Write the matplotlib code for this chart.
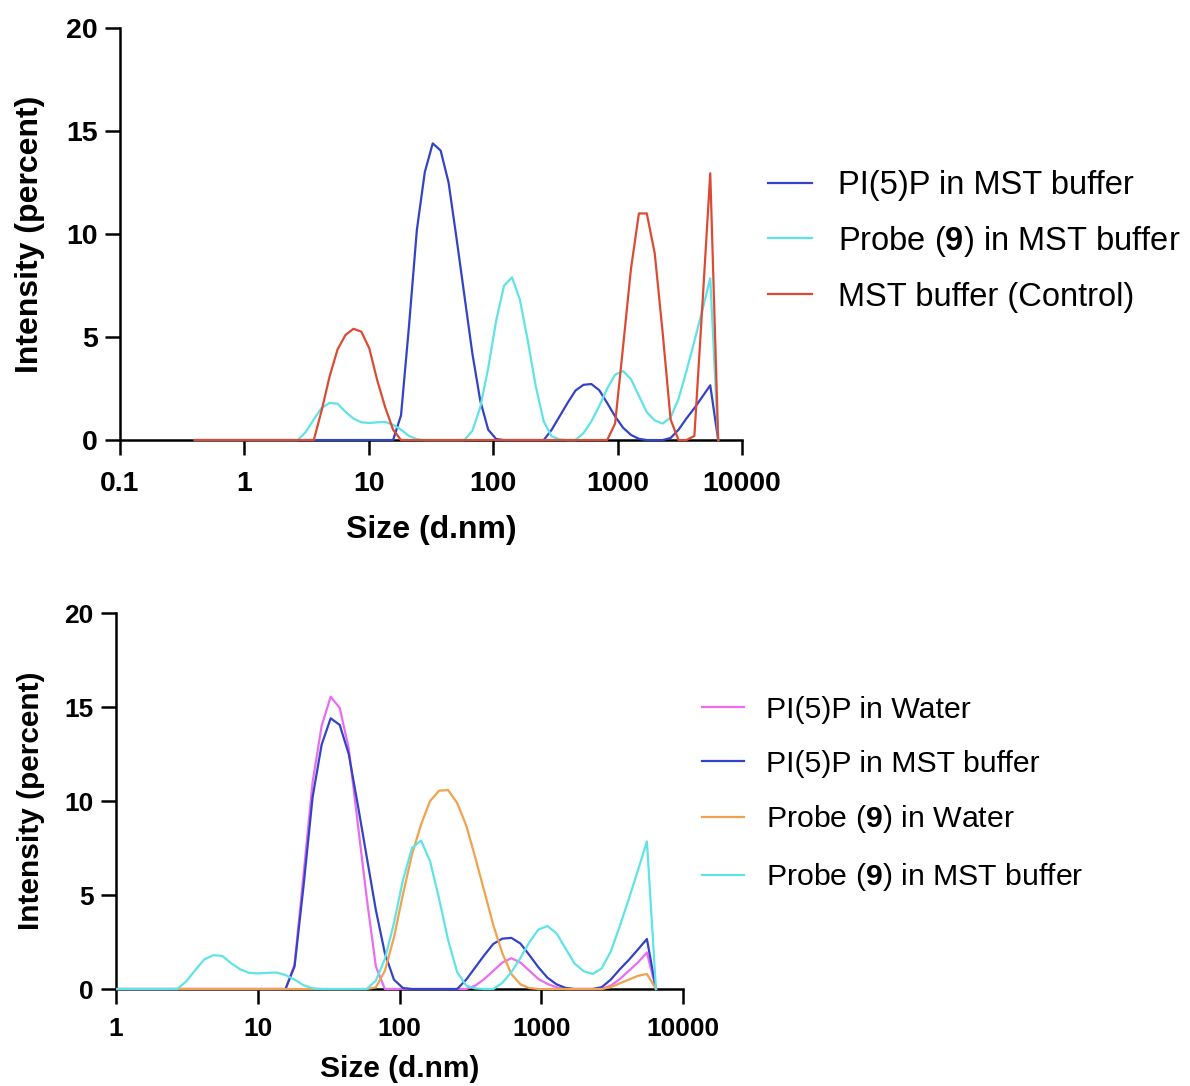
import matplotlib.pyplot as plt
from matplotlib.patches import Rectangle

plt.rcParams['font.family'] = ['Liberation Sans', 'DejaVu Sans']
plt.rcParams['mathtext.fontset'] = 'custom'
plt.rcParams['mathtext.rm'] = 'Liberation Sans'
plt.rcParams['mathtext.bf'] = 'Liberation Sans:bold'

# size bins (d.nm) of the DLS distribution
sizes = [0.4, 0.4632, 0.5365, 0.6213, 0.7195, 0.8332, 0.9649, 1.117, 1.294, 1.499,
         1.736, 2.01, 2.328, 2.696, 3.122, 3.615, 4.187, 4.849, 5.615, 6.503,
         7.531, 8.721, 10.1, 11.7, 13.54, 15.69, 18.17, 21.04, 24.36, 28.21,
         32.67, 37.84, 43.82, 50.75, 58.77, 68.06, 78.82, 91.28, 105.7, 122.4,
         141.8, 164.2, 190.1, 220.2, 255.0, 295.3, 342.0, 396.1, 458.7, 531.2,
         615.1, 712.4, 825.0, 955.4, 1106, 1281, 1484, 1718, 1990, 2305,
         2669, 3091, 3580, 4145, 4801, 5560, 6439]

# intensity (percent) per size bin
pi5p_mst = [0, 0, 0, 0, 0, 0, 0, 0, 0, 0,
            0, 0, 0, 0, 0, 0, 0, 0, 0, 0,
            0, 0, 0, 0, 0, 0, 1.2, 5.5, 10.2, 13.0,
            14.4, 14.05, 12.5, 9.8, 7.0, 4.2, 1.9, 0.5, 0.05, 0,
            0, 0, 0, 0, 0, 0.5, 1.15, 1.8, 2.4, 2.68,
            2.72, 2.42, 1.8, 1.15, 0.6, 0.25, 0.06, 0, 0, 0,
            0.1, 0.5, 1.05, 1.55, 2.1, 2.66, 0]

probe_mst = [0, 0, 0, 0, 0, 0, 0, 0, 0, 0,
             0, 0, 0, 0, 0.4, 1.0, 1.57, 1.8, 1.76, 1.37,
             1.04, 0.86, 0.83, 0.86, 0.88, 0.74, 0.5, 0.2, 0.04, 0,
             0, 0, 0, 0, 0, 0.45, 1.6, 3.5, 5.8, 7.5,
             7.9, 6.8, 4.8, 2.6, 0.9, 0.18, 0.03, 0, 0, 0.33,
             0.9, 1.65, 2.5, 3.17, 3.35, 2.96, 2.15, 1.35, 0.95, 0.8,
             1.1, 2.0, 3.35, 4.8, 6.3, 7.85, 0]

mst_control = [0, 0, 0, 0, 0, 0, 0, 0, 0, 0,
               0, 0, 0, 0, 0, 0, 1.45, 3.1, 4.4, 5.1,
               5.4, 5.26, 4.45, 2.9, 1.6, 0.5, 0, 0, 0, 0,
               0, 0, 0, 0, 0, 0, 0, 0, 0, 0,
               0, 0, 0, 0, 0, 0, 0, 0, 0, 0,
               0, 0, 0, 0.8, 4.5, 8.3, 11.0, 11.0, 9.06, 5.2,
               1.0, 0, 0, 0.2, 6.5, 12.95, 0]

pi5p_water = [0, 0, 0, 0, 0, 0, 0, 0, 0, 0,
              0, 0, 0, 0, 0, 0, 0, 0, 0, 0,
              0, 0, 0, 0, 0, 0, 1.3, 6.1, 11.0, 14.0,
              15.55, 14.95, 12.8, 8.8, 4.8, 1.2, 0, 0, 0, 0,
              0, 0, 0, 0, 0, 0, 0.18, 0.53, 0.97, 1.41,
              1.64, 1.41, 0.97, 0.53, 0.27, 0.09, 0, 0, 0, 0,
              0, 0.18, 0.53, 0.97, 1.41, 1.94, 0]

probe_water = [0, 0, 0, 0, 0, 0, 0, 0, 0, 0,
               0, 0, 0, 0, 0, 0, 0, 0, 0, 0,
               0, 0, 0, 0, 0, 0, 0, 0, 0, 0,
               0, 0, 0, 0, 0, 0.09, 0.97, 2.74, 5.04, 7.16,
               8.75, 10.0, 10.55, 10.58, 9.9, 8.7, 7.0, 5.2, 3.4, 1.9,
               0.8, 0.25, 0.05, 0, 0, 0, 0, 0, 0, 0,
               0, 0.1, 0.3, 0.5, 0.7, 0.8, 0]

c_blue = '#3343c8'
c_cyan = '#5fe3e6'
c_red = '#dc4a34'
c_mag = '#ea6cf0'
c_orange = '#f0a24e'

lbl_pi_mst = 'PI(5)P in MST buffer'
lbl_probe_mst = r'Probe ($\mathbf{9}$) in MST buffer'
lbl_ctrl = 'MST buffer (Control)'
lbl_pi_water = 'PI(5)P in Water'
lbl_probe_water = r'Probe ($\mathbf{9}$) in Water'


def style_axes(ax, xticks, xticklabels, fs_tick, fs_label, xpad, xlpad, ylpad):
    ax.set_xscale('log')
    ax.set_xlim(xticks[0], xticks[-1])
    ax.set_ylim(0, 20)
    ax.set_xticks(xticks)
    ax.set_xticklabels(xticklabels)
    ax.minorticks_off()
    ax.set_yticks([0, 5, 10, 15, 20])
    for s in ['top', 'right']:
        ax.spines[s].set_visible(False)
    for s in ['left', 'bottom']:
        ax.spines[s].set_linewidth(1.8)
        ax.spines[s].set_zorder(1)
    ax.tick_params(width=1.8, length=11, direction='out')
    ax.tick_params(axis='x', pad=xpad)
    ax.tick_params(axis='y', pad=5)
    for t in ax.get_xticklabels() + ax.get_yticklabels():
        t.set_fontweight('bold')
        t.set_fontsize(fs_tick)
    ax.set_xlabel('Size (d.nm)', fontsize=fs_label, fontweight='bold', labelpad=xlpad)
    ax.set_ylabel('Intensity (percent)', fontsize=fs_label, fontweight='bold', labelpad=ylpad)


fig = plt.figure(figsize=(11.9, 10.86), dpi=100)

# top panel
ax1 = fig.add_axes([0.1008, 0.5948, 0.5227, 0.3794])
for y, c, lab in [(pi5p_mst, c_blue, lbl_pi_mst),
                  (probe_mst, c_cyan, lbl_probe_mst),
                  (mst_control, c_red, lbl_ctrl)]:
    ax1.plot(sizes, y, color=c, lw=1.6, label=lab, clip_on=False, zorder=3)
style_axes(ax1, [0.1, 1, 10, 100, 1000, 10000],
           ['0.1', '1', '10', '100', '1000', '10000'], 20.5, 23,
           xpad=11, xlpad=13, ylpad=15)
ax1.legend(loc='upper left', bbox_to_anchor=(768 / 1190, 1 - 170 / 1086),
           bbox_transform=fig.transFigure, frameon=False, fontsize=23.5,
           handlelength=1.35, handletextpad=0.8, labelspacing=0.7,
           borderpad=0, borderaxespad=0)

# bottom panel
ax2 = fig.add_axes([0.0975, 0.0893, 0.4765, 0.3462])
clip = Rectangle((0, -0.05), 1, 1.1, transform=ax2.transAxes, visible=False)
ax2.add_patch(clip)
for y, c, lab in [(pi5p_water, c_mag, lbl_pi_water),
                  (pi5p_mst, c_blue, lbl_pi_mst),
                  (probe_water, c_orange, lbl_probe_water),
                  (probe_mst, c_cyan, lbl_probe_mst)]:
    ln, = ax2.plot(sizes, y, color=c, lw=1.6, label=lab, zorder=3)
    ln.set_clip_path(clip)
style_axes(ax2, [1, 10, 100, 1000, 10000],
           ['1', '10', '100', '1000', '10000'], 19, 21.5,
           xpad=9, xlpad=10, ylpad=14)
ax2.legend(loc='upper left', bbox_to_anchor=(702 / 1190, 1 - 696 / 1086),
           bbox_transform=fig.transFigure, frameon=False, fontsize=21.8,
           handlelength=1.4, handletextpad=0.7, labelspacing=0.85,
           borderpad=0, borderaxespad=0)

fig.savefig('out.png', dpi=100)
